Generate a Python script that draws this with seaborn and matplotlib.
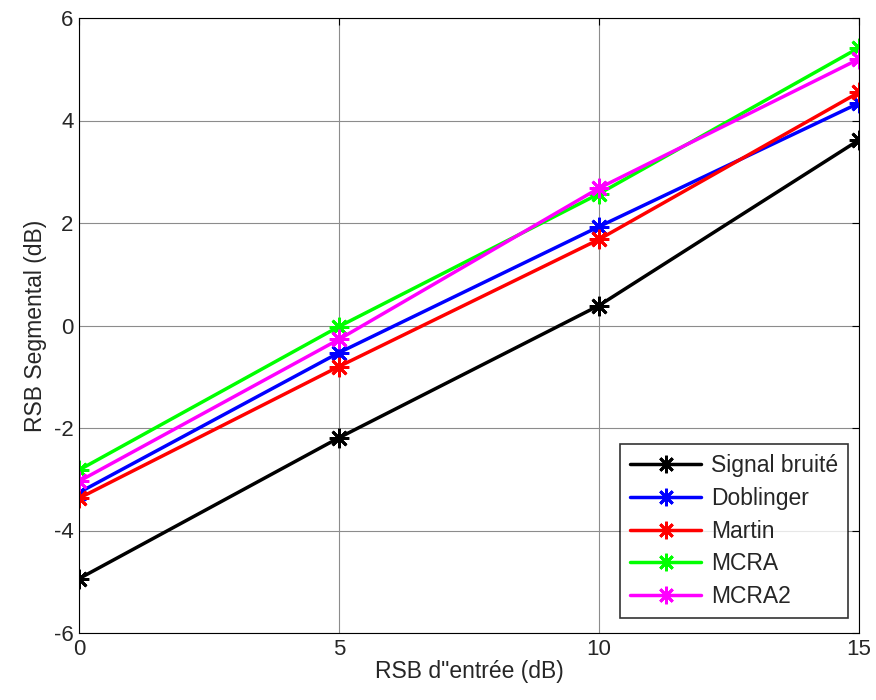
import matplotlib
matplotlib.use("Agg")
import matplotlib.pyplot as plt
import seaborn as sns
import pandas as pd

x_vals = [0, 5, 10, 15]
series_names = ["Signal bruité", "Doblinger", "Martin", "MCRA", "MCRA2"]
signal_bruite = [-4.94, -2.19, 0.39, 3.62]
doblinger = [-3.26, -0.53, 1.93, 4.34]
martin = [-3.37, -0.80, 1.68, 4.55]
mcra = [-2.82, -0.02, 2.57, 5.42]
mcra2 = [-3.04, -0.27, 2.68, 5.20]
colors = ["#000000", "#0000ff", "#ff0000", "#00ff00", "#ff00ff"]
xticks = [0, 5, 10, 15]
yticks = [-6, -4, -2, 0, 2, 4, 6]

rows = []
for name, vals in zip(series_names, [signal_bruite, doblinger, martin, mcra, mcra2]):
    for xv, yv in zip(x_vals, vals):
        rows.append({"x": xv, "y": yv, "serie": name})
df = pd.DataFrame(rows)

sns.set_style("white")
plt.rcParams["font.family"] = ["Liberation Sans", "DejaVu Sans"]
plt.rcParams["axes.unicode_minus"] = False

fig = plt.figure(figsize=(8.76, 7.0), dpi=100)
ax = fig.add_axes([79/876, 1 - 633/700, 780/876, 615/700])

star = (8, 2, 0)
sns.lineplot(data=df, x="x", y="y", hue="serie", hue_order=series_names,
             palette=colors, marker=star, markersize=14, linewidth=2.5,
             markeredgewidth=2.0, ax=ax, sort=False)
for line in ax.lines:
    line.set_markeredgecolor(line.get_color())

ax.set_xlim(0, 15)
ax.set_ylim(-6, 6)
ax.set_xticks(xticks)
ax.set_yticks(yticks)
ax.grid(True, color="#8c8c8c", linewidth=0.8)
ax.set_axisbelow(True)
ax.tick_params(direction="in", top=True, right=True, length=5, labelsize=16,
               color="black", pad=4)
for s in ax.spines.values():
    s.set_visible(True)
    s.set_color("black")
    s.set_linewidth(0.8)
ax.set_xlabel("RSB d\"entrée (dB)", fontsize=16.5, labelpad=0)
ax.set_ylabel("RSB Segmental (dB)", fontsize=16.5, labelpad=5)

leg = ax.legend(loc="lower right", fontsize=16.5, frameon=True, fancybox=False,
                edgecolor="black", handlelength=3.1, borderpad=0.45,
                labelspacing=0.42, handletextpad=0.4, markerscale=0.9,
                borderaxespad=0.0, bbox_to_anchor=(0.986, 0.024))
leg.get_frame().set_linewidth(1.2)
for h in leg.get_lines():
    h.set_markeredgecolor(h.get_color())

fig.savefig("out.png", dpi=100, facecolor="white")
